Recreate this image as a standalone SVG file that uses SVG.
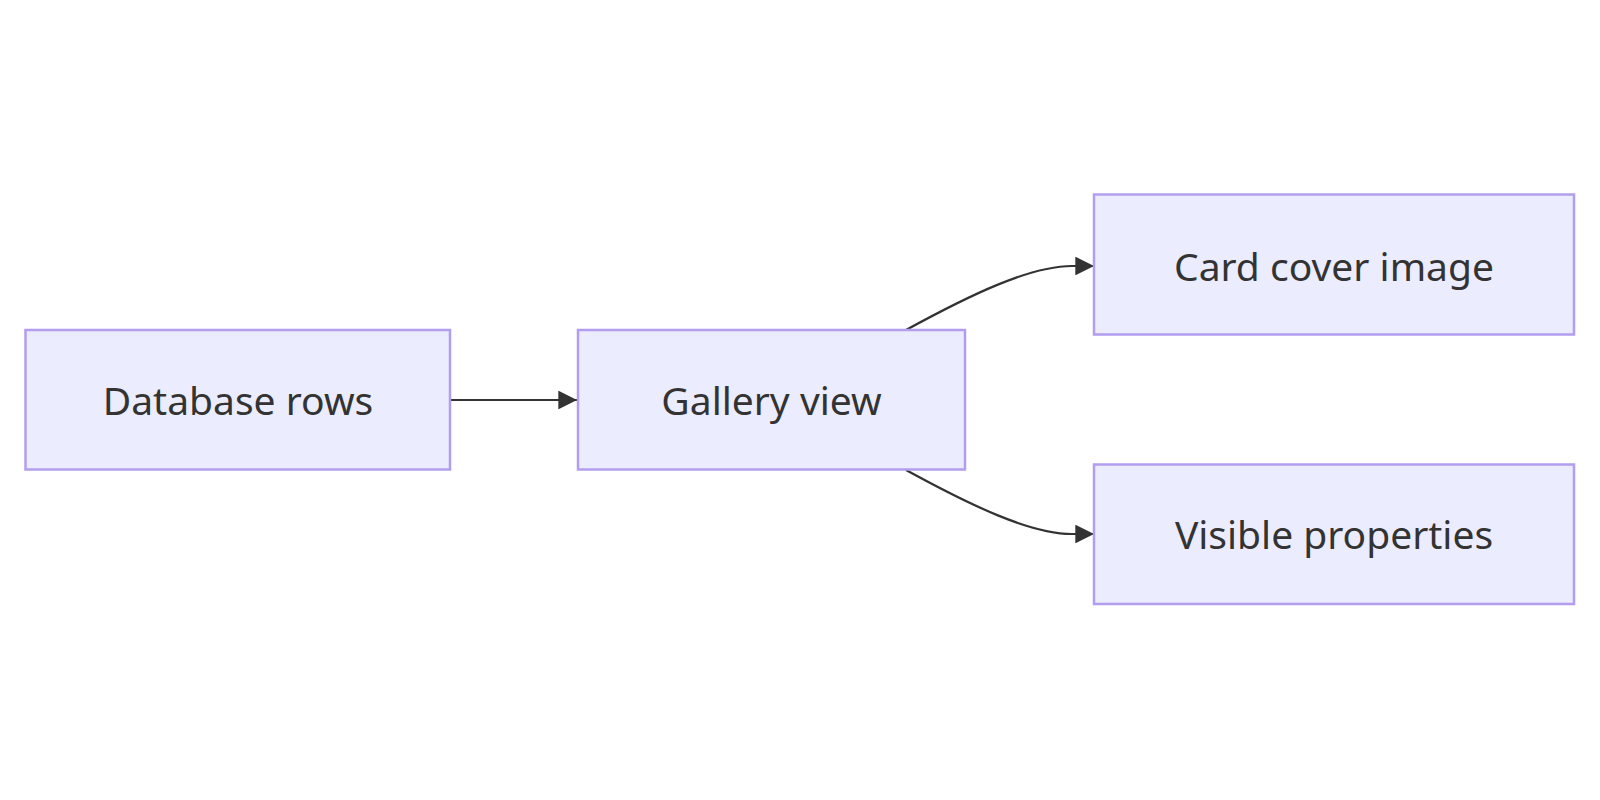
<svg xmlns="http://www.w3.org/2000/svg" width="1600" height="800" viewBox="0 0 1600 800">
<defs>
<style>
.node rect{fill:#ECECFF;stroke:#B39DEE;stroke-width:2.5}
.node text{font-family:"Noto Sans","Open Sans",sans-serif;font-size:39px;fill:#333;text-anchor:middle;dominant-baseline:central}
.edge{fill:none;stroke:#333;stroke-width:2.2}
</style>
<marker id="arrow" viewBox="0 0 10 10" refX="10" refY="5" markerWidth="8.5" markerHeight="8.5" markerUnits="strokeWidth" orient="auto">
<path d="M0,0 L10,5 L0,10 z" fill="#333"/>
</marker>
</defs>
<rect width="1600" height="800" fill="#fff"/>
<g id="connectors">
<path class="edge" d="M451,400 L577,400" marker-end="url(#arrow)"/>
<path class="edge" d="M906,330 C970,295 1030,266 1072,266 L1094,266" marker-end="url(#arrow)"/>
<path class="edge" d="M906,470 C970,505 1030,534 1072,534 L1094,534" marker-end="url(#arrow)"/>
</g>
<g id="node-database" class="node">
<rect x="25.5" y="330" width="424.5" height="139.5"/>
<text x="238" y="399">Database rows</text>
</g>
<g id="node-gallery" class="node">
<rect x="578" y="330" width="387" height="139.5"/>
<text x="771.5" y="399">Gallery view</text>
</g>
<g id="node-cover" class="node">
<rect x="1094" y="194.5" width="480" height="140"/>
<text x="1334" y="265">Card cover image</text>
</g>
<g id="node-props" class="node">
<rect x="1094" y="464.5" width="480" height="139.5"/>
<text x="1334" y="533">Visible properties</text>
</g>
</svg>
